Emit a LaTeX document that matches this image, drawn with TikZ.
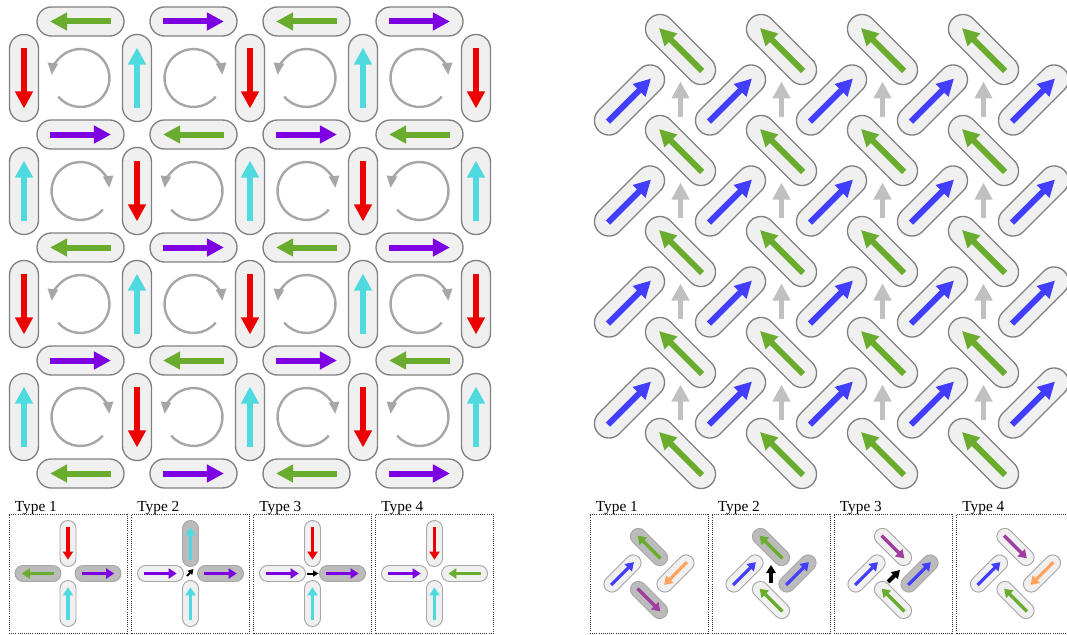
\documentclass[tikz,border=0pt]{standalone}
\usepackage{fontspec}
\setmainfont{Liberation Serif}
\usetikzlibrary{arrows.meta,calc}

\definecolor{spingreen}{RGB}{106,172,46}
\definecolor{spinviolet}{RGB}{124,0,226}
\definecolor{spinred}{RGB}{236,0,0}
\definecolor{spincyan}{RGB}{78,218,222}
\definecolor{spinblue}{RGB}{66,62,255}
\definecolor{spinorange}{RGB}{255,162,92}
\definecolor{spinmagenta}{RGB}{160,62,160}
\definecolor{islefill}{RGB}{240,240,240}
\definecolor{isledark}{RGB}{187,187,187}
\definecolor{isleedge}{RGB}{128,128,128}
\definecolor{loopgray}{RGB}{166,166,166}
\definecolor{netgray}{RGB}{192,192,192}

\begin{document}
\begin{tikzpicture}[x=0.75pt, y=0.75pt,
    island/.style={draw=isleedge, fill=islefill, line width=1pt,
        rounded corners=10.8pt, minimum width=65.25pt, minimum height=21.75pt,
        inner sep=0pt, outer sep=0pt},
    small island/.style={draw=isleedge!70, line width=0.7pt,
        rounded corners=6pt, minimum width=34.5pt, minimum height=12pt,
        inner sep=0pt, outer sep=0pt},
    palefill/.style={fill=islefill},
    darkfill/.style={fill=isledark},
    spin/.style={line width=4.5pt, -{Triangle[length=12.75pt, width=12.75pt]}},
    small spin/.style={line width=2.4pt, -{Triangle[length=6pt, width=7.5pt]}},
    circulation/.style={loopgray, line width=1.8pt, -{Triangle[length=9pt, width=7.5pt]}},
    netspin/.style={netgray, line width=3.75pt, -{Triangle[length=12.75pt, width=12.75pt]}},
    charge/.style={black, line width=1.5pt, -{Triangle[length=4pt, width=4.5pt]}},
    big charge/.style={black, line width=3pt, -{Triangle[length=6pt, width=7pt]}},
    panel/.style={draw=black!80, densely dotted, line width=0.6pt,
        minimum width=88.5pt, minimum height=89.25pt, inner sep=0pt},
    panel label/.style={anchor=base west, inner sep=0pt, font=\fontsize{11.5}{13}\selectfont}]

    \useasboundingbox (0,-635) rectangle (1067,0);
    \clip (0,-635) rectangle (1067,0);

    % Square ice: horizontal islands
    \foreach \i in {0,...,3}
        \foreach \j in {0,...,4} {
            \ifodd\numexpr\i+\j\relax
                \def\col{spinviolet}\def\ang{0}
            \else
                \def\col{spingreen}\def\ang{180}
            \fi
            \node[island, rotate=\ang] (sqh-\i-\j) at ({80.5+113*\i}, {-21.5-113*\j}) {};
            \draw[spin, \col] ($(sqh-\i-\j.west)!0.15!(sqh-\i-\j.east)$) -- ($(sqh-\i-\j.west)!0.85!(sqh-\i-\j.east)$);
        }

    % Square ice: vertical islands
    \foreach \i in {0,...,4}
        \foreach \j in {0,...,3} {
            \ifodd\numexpr\i+\j\relax
                \def\col{spincyan}\def\ang{90}
            \else
                \def\col{spinred}\def\ang{270}
            \fi
            \node[island, rotate=\ang] (sqv-\i-\j) at ({24+113*\i}, {-78-113*\j}) {};
            \draw[spin, \col] ($(sqv-\i-\j.west)!0.15!(sqv-\i-\j.east)$) -- ($(sqv-\i-\j.west)!0.85!(sqv-\i-\j.east)$);
        }

    % Square ice: plaquette circulation
    \foreach \i in {0,...,3}
        \foreach \j in {0,...,3} {
            \coordinate (sqp-\i-\j) at ({80.5+113*\i}, {-78-113*\j});
            \ifodd\numexpr\i+\j\relax
                \draw[circulation] (sqp-\i-\j) ++(-40:29) arc[start angle=-40, end angle=-354, radius=29];
            \else
                \draw[circulation] (sqp-\i-\j) ++(220:29) arc[start angle=220, end angle=534, radius=29];
            \fi
        }

    % Pinwheel ice: islands along NW-SE
    \foreach \i in {0,...,3}
        \foreach \j in {0,...,4} {
            \node[island, rotate=135] (pwh-\i-\j) at ({680.5+101*\i}, {-49.5-101*\j}) {};
            \draw[spin, spingreen] ($(pwh-\i-\j.west)!0.15!(pwh-\i-\j.east)$) -- ($(pwh-\i-\j.west)!0.85!(pwh-\i-\j.east)$);
        }

    % Pinwheel ice: islands along SW-NE
    \foreach \i in {0,...,4}
        \foreach \j in {0,...,3} {
            \node[island, rotate=45] (pwv-\i-\j) at ({629.5+101*\i}, {-100-101*\j}) {};
            \draw[spin, spinblue] ($(pwv-\i-\j.west)!0.15!(pwv-\i-\j.east)$) -- ($(pwv-\i-\j.west)!0.85!(pwv-\i-\j.east)$);
        }

    % Pinwheel ice: net moments
    \foreach \i in {0,...,3}
        \foreach \j in {0,...,3}
            \draw[netspin] ({680.5+101*\i}, {-116.5-101*\j}) -- ({680.5+101*\i}, {-81.5-101*\j});

    % Vertex types, square ice
    \foreach \n/\cx in {1/68, 2/190.5, 3/312.5, 4/434.5} {
        \node[panel] (sqt\n) at (\cx,-573.5) {};
        \node[panel label] (sqtl\n) at ([xshift=4.5pt, yshift=1.5pt]sqt\n.north west) {Type \n};
    }
    \foreach \n/\dx/\dy/\ang/\col/\fil [count=\k] in {
        1/0/30/270/spinred/palefill, 1/-30/0/180/spingreen/darkfill, 1/30/0/0/spinviolet/darkfill, 1/0/-30/90/spincyan/palefill,
        2/0/30/90/spincyan/darkfill, 2/-30/0/0/spinviolet/palefill, 2/30/0/0/spinviolet/darkfill, 2/0/-30/90/spincyan/palefill,
        3/0/30/270/spinred/palefill, 3/-30/0/0/spinviolet/palefill, 3/30/0/0/spinviolet/darkfill, 3/0/-30/90/spincyan/palefill,
        4/0/30/270/spinred/palefill, 4/-30/0/0/spinviolet/palefill, 4/30/0/180/spingreen/palefill, 4/0/-30/90/spincyan/palefill} {
        \node[small island, \fil, rotate=\ang] (sqs\k) at ($(sqt\n)+(\dx,\dy)$) {};
        \draw[small spin, \col] ($(sqs\k.west)!0.15!(sqs\k.east)$) -- ($(sqs\k.west)!0.85!(sqs\k.east)$);
    }
    \draw[charge] ($(sqt2)+(-3.5,-2.5)$) -- ($(sqt2)+(3,4.5)$);
    \draw[charge] ($(sqt3)+(-5.5,0)$) -- ($(sqt3)+(6,0)$);

    % Vertex types, pinwheel ice
    \foreach \n/\cx in {1/649, 2/771, 3/893, 4/1015.5} {
        \node[panel] (pwt\n) at (\cx,-573.5) {};
        \node[panel label] (pwtl\n) at ([xshift=4.5pt, yshift=1.5pt]pwt\n.north west) {Type \n};
    }
    \foreach \n/\dx/\dy/\ang/\col/\fil [count=\k] in {
        1/0/26.5/135/spingreen/darkfill, 1/-26.5/0/45/spinblue/palefill, 1/26.5/0/225/spinorange/palefill, 1/0/-26.5/-45/spinmagenta/darkfill,
        2/0/26.5/135/spingreen/darkfill, 2/-26.5/0/45/spinblue/palefill, 2/26.5/0/45/spinblue/darkfill, 2/0/-26.5/135/spingreen/palefill,
        3/0/26.5/-45/spinmagenta/palefill, 3/-26.5/0/45/spinblue/palefill, 3/26.5/0/45/spinblue/darkfill, 3/0/-26.5/135/spingreen/palefill,
        4/0/26.5/-45/spinmagenta/palefill, 4/-26.5/0/45/spinblue/palefill, 4/26.5/0/225/spinorange/palefill, 4/0/-26.5/135/spingreen/palefill} {
        \node[small island, \fil, rotate=\ang] (pws\k) at ($(pwt\n)+(\dx,\dy)$) {};
        \draw[small spin, \col] ($(pws\k.west)!0.15!(pws\k.east)$) -- ($(pws\k.west)!0.85!(pws\k.east)$);
    }
    \draw[big charge] ($(pwt2)+(0,-9.5)$) -- ($(pwt2)+(0,8.5)$);
    \draw[big charge] ($(pwt3)+(-5,-8.5)$) -- ($(pwt3)+(7,3.5)$);
\end{tikzpicture}
\end{document}
